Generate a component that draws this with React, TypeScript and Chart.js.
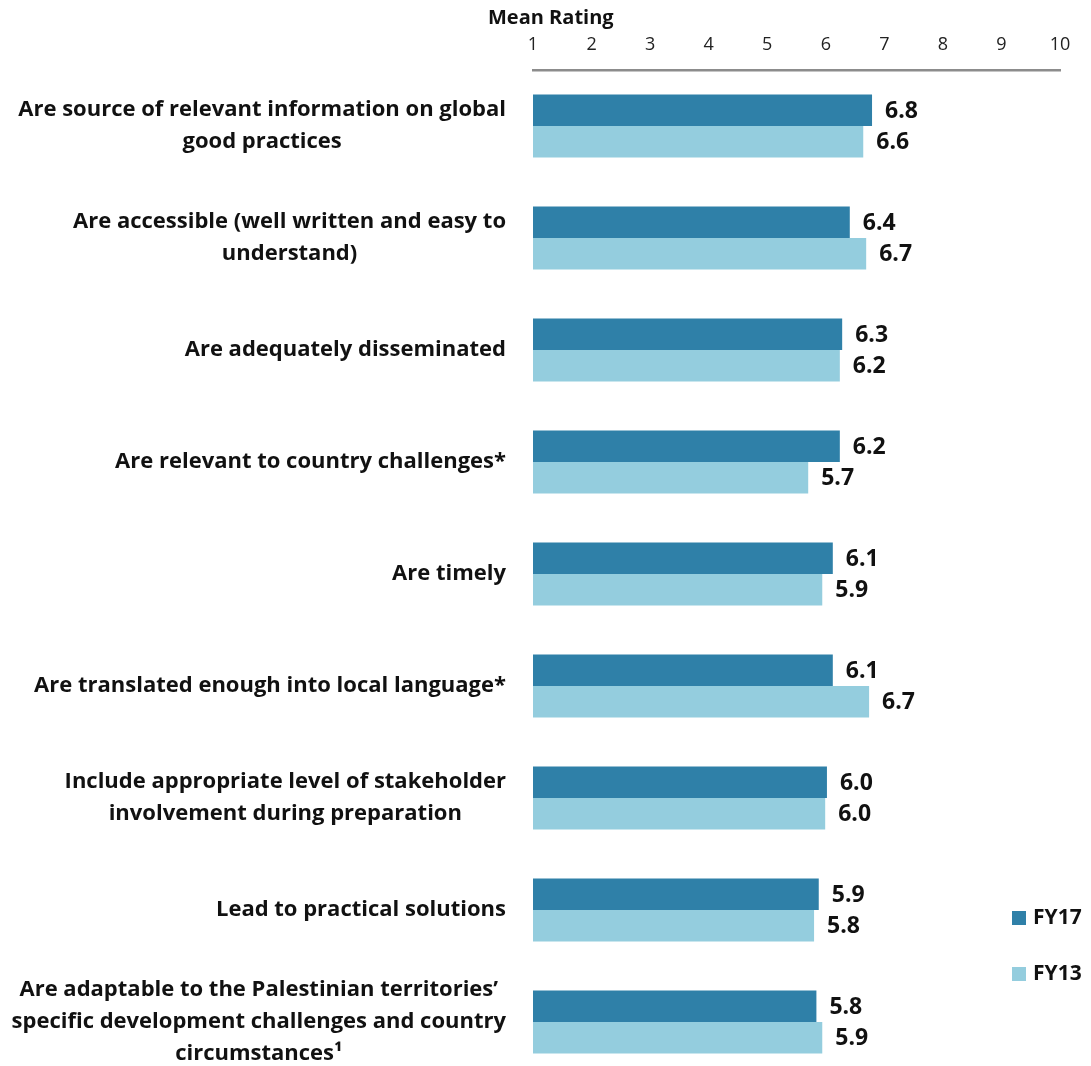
import React, { useEffect, useRef } from "react";
import { Chart, registerables } from "chart.js";

Chart.register(...registerables);

const categories: string[][] = [
  ["Are source of relevant information on global", "good practices"],
  ["Are accessible (well written and easy to", "understand)"],
  ["Are adequately disseminated"],
  ["Are relevant to country challenges*"],
  ["Are timely"],
  ["Are translated enough into local language*"],
  ["Include appropriate level of stakeholder", "involvement during preparation"],
  ["Lead to practical solutions"],
  [
    "Are adaptable to the Palestinian territories’",
    "specific development challenges and country",
    "circumstances¹",
  ],
];

const fy17: number[] = [6.79, 6.41, 6.28, 6.24, 6.12, 6.12, 6.02, 5.88, 5.84];
const fy13: number[] = [6.64, 6.69, 6.24, 5.7, 5.94, 6.74, 5.99, 5.8, 5.94];
const seriesNames: string[] = ["FY17", "FY13"];
const seriesColors: string[] = ["#2F80A8", "#94CDDE"];
const axisTitle = "Mean Rating";
const axisMin = 1;
const axisMax = 10;

const FONT = "'Open Sans', 'Noto Sans', 'DejaVu Sans', sans-serif";

const overlay = {
  id: "overlay",
  afterDatasetsDraw(chart: any) {
    const ctx: CanvasRenderingContext2D = chart.ctx;
    const y = chart.scales.y;
    const area = chart.chartArea;
    ctx.save();
    ctx.fillStyle = "#111111";
    ctx.textBaseline = "middle";

    // category labels
    ctx.font = `bold 22px ${FONT}`;
    ctx.textAlign = "center";
    const rightEdge = area.left - 27;
    categories.forEach((lines, i) => {
      const cy = y.getPixelForValue(i);
      const maxW = Math.max(...lines.map((l) => ctx.measureText(l).width));
      const cx = rightEdge - maxW / 2;
      const lh = 32;
      lines.forEach((l, j) => {
        ctx.fillText(l, cx, cy + (j - (lines.length - 1) / 2) * lh);
      });
    });

    // value labels
    ctx.textAlign = "left";
    ctx.font = `bold 23px ${FONT}`;
    chart.data.datasets.forEach((ds: any, di: number) => {
      const meta = chart.getDatasetMeta(di);
      meta.data.forEach((bar: any, i: number) => {
        ctx.fillText(Number(ds.data[i]).toFixed(1), bar.x + 13, bar.y + 1);
      });
    });

    // axis title
    ctx.font = `bold 20px ${FONT}`;
    ctx.textAlign = "left";
    ctx.fillText(axisTitle, area.left - 45, 18);

    // legend
    ctx.font = `bold 21px ${FONT}`;
    chart.data.datasets.forEach((ds: any, di: number) => {
      const ly = 918 + di * 56;
      ctx.fillStyle = ds.backgroundColor;
      ctx.fillRect(1012, ly - 7, 14, 14);
      ctx.fillStyle = "#111111";
      ctx.fillText(ds.label, 1033, ly);
    });
    ctx.restore();
  },
};

export default function App() {
  const ref = useRef<HTMLCanvasElement | null>(null);
  useEffect(() => {
    if (!ref.current) return;
    const chart = new Chart(ref.current, {
      type: "bar",
      data: {
        labels: categories.map((c) => c.join(" ")),
        datasets: [
          { label: seriesNames[0], data: fy17, backgroundColor: seriesColors[0] },
          { label: seriesNames[1], data: fy13, backgroundColor: seriesColors[1] },
        ],
      },
      options: {
        indexAxis: "y",
        responsive: false,
        animation: false,
        events: [],
        layout: { padding: { left: 533, right: 31, top: 0, bottom: 2 } },
        datasets: {
          bar: { categoryPercentage: 0.5625, barPercentage: 1 },
        },
        plugins: {
          legend: { display: false },
          tooltip: { enabled: false },
        },
        scales: {
          x: {
            position: "top",
            min: axisMin,
            max: axisMax,
            afterFit: (scale: any) => {
              scale.height = 70;
            },
            grid: { display: false },
            border: { display: true, color: "#8C8C8C", width: 2.5 },
            ticks: {
              stepSize: 1,
              padding: 6,
              color: "#222222",
              font: { family: FONT, size: 18 },
            },
          },
          y: {
            display: false,
            offset: true,
            grid: { display: false },
          },
        },
      },
      plugins: [overlay],
    } as any);
    return () => chart.destroy();
  }, []);

  return (
    <div
      style={{
        position: "fixed",
        left: 0,
        top: 0,
        width: 1091,
        height: 1066,
        overflow: "hidden",
        background: "#ffffff",
      }}
    >
      <canvas ref={ref} width={1091} height={1080} style={{ display: "block" }} />
    </div>
  );
}
